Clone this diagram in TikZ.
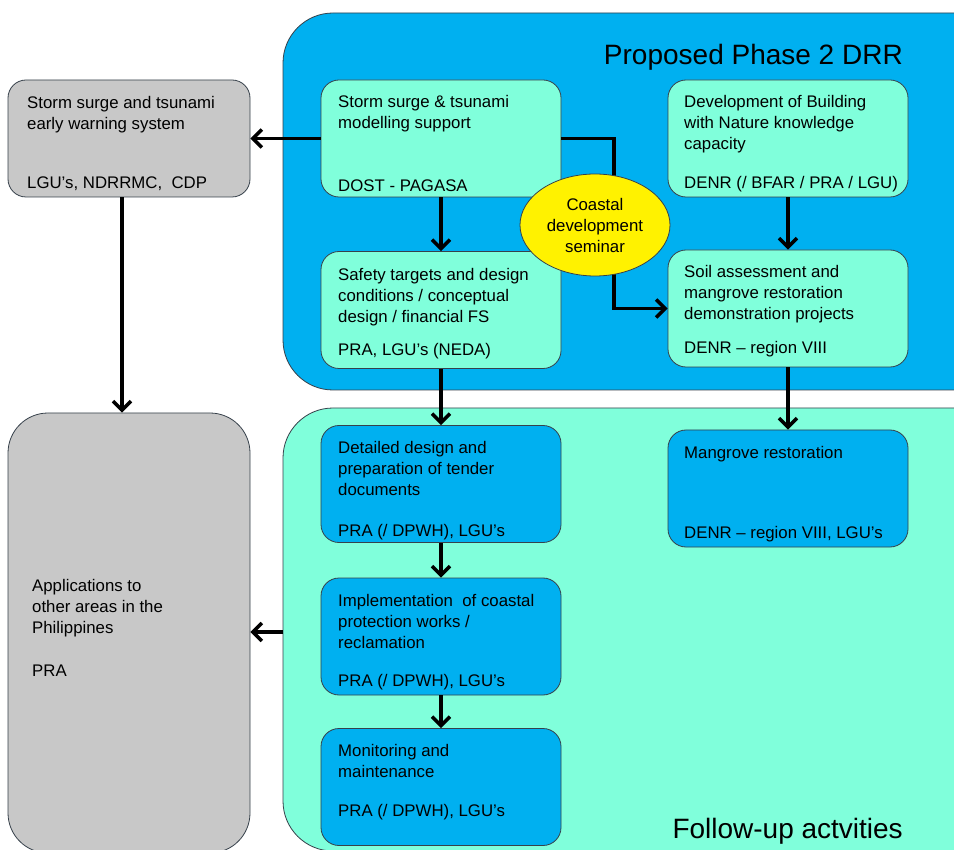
\documentclass[tikz,border=0pt]{standalone}
\usepackage{fontspec}
\setmainfont{Liberation Sans}
\usetikzlibrary{arrows.meta,shapes.geometric}
\definecolor{panelblue}{RGB}{0,176,240}
\definecolor{aquafill}{RGB}{128,255,219}
\definecolor{greyfill}{RGB}{200,200,200}
\definecolor{edgecol}{RGB}{55,65,75}
\begin{document}
\begin{tikzpicture}[x=1pt,y=-1pt,
  panel/.style={draw=edgecol,line width=0.8pt,rounded corners=50pt},
  gbox/.style={draw=edgecol,line width=0.8pt,fill=greyfill},
  cbox/.style={draw=edgecol,line width=0.8pt,fill=aquafill,rounded corners=18pt,minimum width=240pt,minimum height=117pt,inner sep=0pt},
  dbox/.style={draw=edgecol,line width=0.8pt,fill=panelblue,rounded corners=18pt,minimum width=240pt,minimum height=117pt,inner sep=0pt},
  txt/.style={anchor=north west,inner sep=0pt,align=left,font=\fontsize{16.8}{21.3}\selectfont},
  agency/.style={anchor=base west,inner sep=0pt,font=\fontsize{16.8}{21.3}\selectfont},
  title/.style={anchor=base east,inner sep=0pt,font=\fontsize{28}{32}\selectfont},
  arr/.style={line width=3.5pt,-{Straight Barb[length=9pt,width=18pt]}}]
\clip (0,0) rectangle (954,850);
\fill[white] (0,0) rectangle (954,850);

% panels
\draw[panel,fill=panelblue] (283,13) rectangle (1004,390);
\draw[panel,fill=aquafill] (283,408) rectangle (1004,851);
\node[inner sep=0pt,minimum size=0pt] (fpanel) at (283,632) {};

% grey boxes
\node[gbox,rounded corners=18pt,minimum width=242pt,minimum height=117pt,inner sep=0pt] (g1) at (129,138.5) {};
\node[gbox,rounded corners=40pt,minimum width=242pt,minimum height=440pt,inner sep=0pt] (g2) at (129,633) {};

% Proposed phase boxes
\node[cbox] (m1) at (441,138.5) {};
\node[cbox] (dev) at (788,138.5) {};
\node[cbox] (saf) at (441,310) {};
\node[cbox] (soil) at (788,308.5) {};

% follow-up boxes
\node[dbox] (det) at (441,484) {};
\node[dbox] (imp) at (441,636.5) {};
\node[dbox] (mon) at (441,787) {};
\node[dbox] (man) at (788,488.5) {};

% titles
\node[title] (t1) at (903,65) {Proposed Phase 2 DRR};
\node[title] (t2) at (903,838) {Follow-up actvities};

% texts
\node[txt] (g1t) at (27,96) {Storm surge and tsunami\\early warning system};
\node[agency] (g1a) at (27,188.5) {LGU’s, NDRRMC,\ \ CDP};
\node[txt] (g2t) at (32,579) {Applications to\\other areas in the\\Philippines\\[21.3pt]PRA};

\node[txt] (m1t) at (338,95) {Storm surge \& tsunami\\modelling support};
\node[agency] (m1a) at (338,191.5) {DOST - PAGASA};
\node[txt] (devt) at (684,95) {Development of Building\\with Nature knowledge\\capacity};
\node[agency] (deva) at (684,188.5) {DENR (/ BFAR / PRA / LGU)};
\node[txt] (saft) at (338,268) {Safety targets and design\\conditions / conceptual\\design / financial FS};
\node[agency] (safa) at (338,356) {PRA, LGU’s (NEDA)};
\node[txt] (soilt) at (684,265) {Soil assessment and\\mangrove restoration\\demonstration projects};
\node[agency] (soila) at (684,354) {DENR -- region VIII};

\node[txt] (dett) at (338,441) {Detailed design and\\preparation of tender\\documents};
\node[agency] (deta) at (338,536) {PRA (/ DPWH), LGU’s};
\node[txt] (impt) at (338,594) {Implementation\ \ of coastal\\protection works /\\reclamation};
\node[agency] (impa) at (338,686) {PRA (/ DPWH), LGU’s};
\node[txt] (mont) at (338,744) {Monitoring and\\maintenance};
\node[agency] (mona) at (338,816) {PRA (/ DPWH), LGU’s};
\node[txt] (mant) at (684,446) {Mangrove restoration};
\node[agency] (mana) at (684,538.5) {DENR -- region VIII, LGU’s};

% connectors
\draw[arr] (m1.west) -- (g1.east);
\draw[arr] ([xshift=-7pt]g1.south) -- ([xshift=-7pt]g1.south |- g2.north);
\draw[arr] (m1.south) -- (saf.north);
\draw[arr] (m1.east) -- (614,138.5) |- (soil.west);
\draw[arr] (dev.south) -- (soil.north);
\draw[arr] (saf.south) -- (det.north);
\draw[arr] (soil.south) -- (man.north);
\draw[arr] (det.south) -- (imp.north);
\draw[arr] (imp.south) -- (mon.north);
\draw[arr] (fpanel.center) -- (fpanel.center -| g2.east);

% seminar ellipse
\node[ellipse,draw=edgecol,line width=0.8pt,fill=yellow,minimum width=150pt,minimum height=102pt,inner sep=0pt,align=center,font=\fontsize{16.8}{21}\selectfont] (sem) at (595,225) {Coastal\\development\\seminar};
\end{tikzpicture}
\end{document}
